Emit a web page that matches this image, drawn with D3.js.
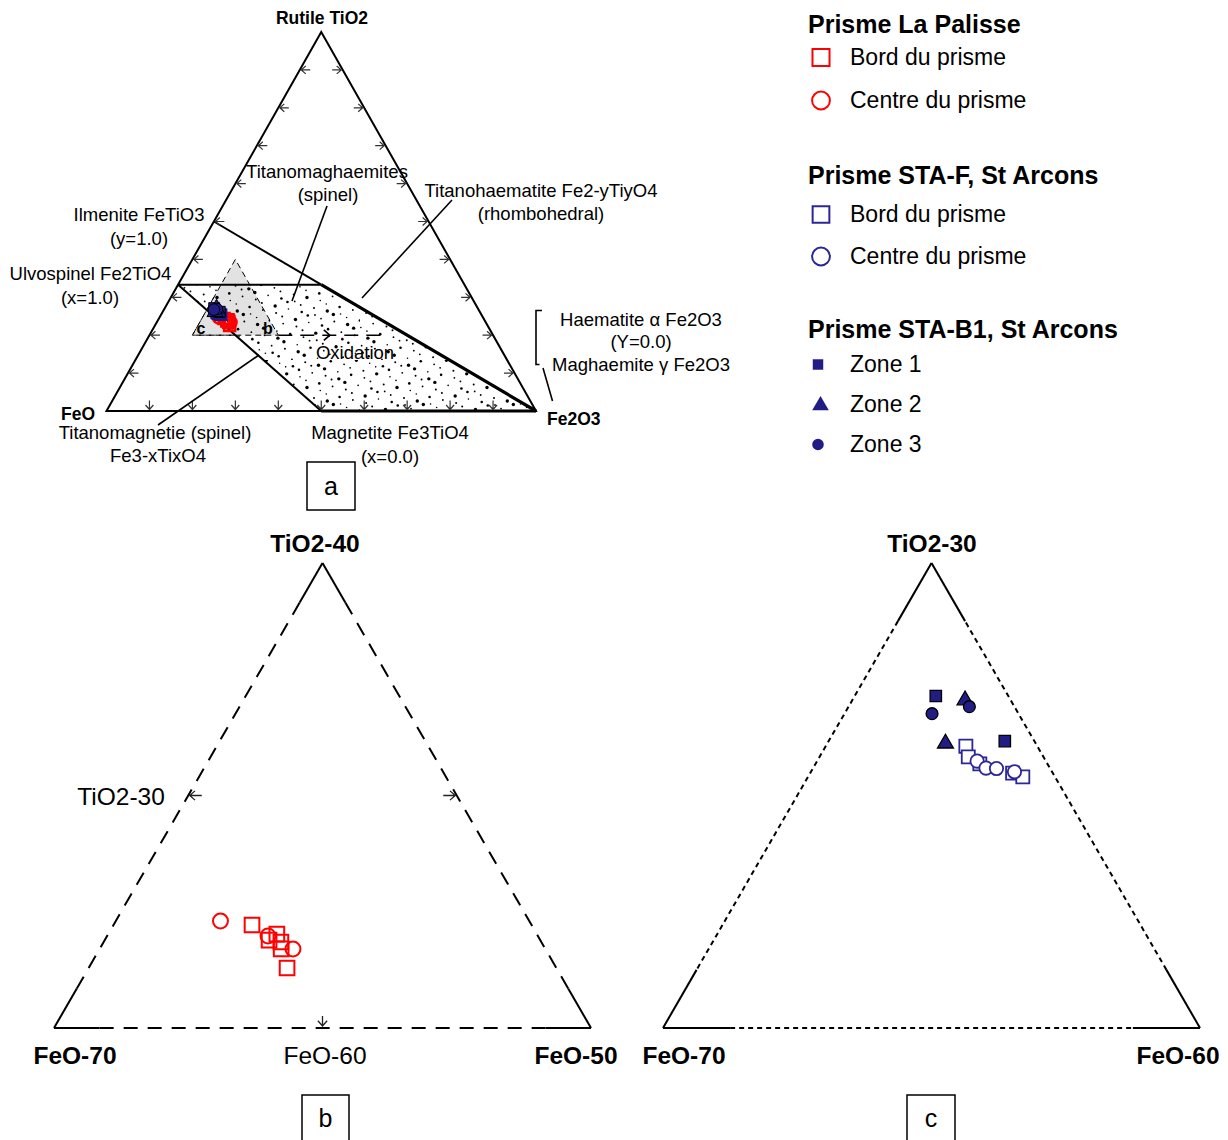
<!DOCTYPE html>
<html><head><meta charset="utf-8">
<script src="https://cdn.jsdelivr.net/npm/d3@7"></script>
<style>html,body{margin:0;padding:0;background:#fff;} svg{display:block;} text{font-family:"Liberation Sans",Arial,sans-serif;}</style>
</head><body><svg id="chart" width="1228" height="1140"></svg>
<script>
// ---------------- DATA (wt %: TiO2, FeO, Fe2O3) ----------------
const palisseBord = [
  {TiO2:24.43, FeO:60.41, Fe2O3:15.16},
  {TiO2:24.04, FeO:59.68, Fe2O3:16.28},
  {TiO2:23.78, FeO:60.10, Fe2O3:16.12},
  {TiO2:23.70, FeO:59.70, Fe2O3:16.60},
  {TiO2:23.40, FeO:59.84, Fe2O3:16.76},
  {TiO2:22.58, FeO:60.03, Fe2O3:17.39}
];
const palisseCentre = [
  {TiO2:24.60, FeO:61.50, Fe2O3:13.90},
  {TiO2:23.96, FeO:60.05, Fe2O3:15.99},
  {TiO2:23.40, FeO:59.40, Fe2O3:17.20}
];
const staFBord = [
  {TiO2:26.06, FeO:61.33, Fe2O3:12.61},
  {TiO2:25.83, FeO:61.40, Fe2O3:12.77},
  {TiO2:25.68, FeO:61.26, Fe2O3:13.06},
  {TiO2:25.48, FeO:60.75, Fe2O3:13.77},
  {TiO2:25.40, FeO:60.60, Fe2O3:14.00}
];
const staFCentre = [
  {TiO2:25.74, FeO:61.28, Fe2O3:12.98},
  {TiO2:25.59, FeO:61.19, Fe2O3:13.22},
  {TiO2:25.58, FeO:61.00, Fe2O3:13.42},
  {TiO2:25.51, FeO:60.70, Fe2O3:13.79}
];
const staB1Zone1 = [
  {TiO2:27.14, FeO:61.35, Fe2O3:11.51},
  {TiO2:26.17, FeO:60.55, Fe2O3:13.28}
];
const staB1Zone2 = [
  {TiO2:27.05, FeO:60.85, Fe2O3:12.10},
  {TiO2:26.12, FeO:61.68, Fe2O3:12.20}
];
const staB1Zone3 = [
  {TiO2:26.91, FeO:60.84, Fe2O3:12.25},
  {TiO2:26.76, FeO:61.61, Fe2O3:11.63}
];
// end members / reference compositions of panel a
const ilmenite   = {TiO2:50,    FeO:50,    Fe2O3:0};
const ulvospinel = {TiO2:33.33, FeO:66.67, Fe2O3:0};
const magnetite  = {TiO2:0,     FeO:50,    Fe2O3:50};
const haematite  = {TiO2:0,     FeO:0,     Fe2O3:100};
const rutile     = {TiO2:100,   FeO:0,     Fe2O3:0};
const wustite    = {TiO2:0,     FeO:100,   Fe2O3:0};
const ilmHemCross= {TiO2:33.33, FeO:33.34, Fe2O3:33.33};
// zoom windows (ranges in wt %)
const zoomB = {TiO2:[20,40], Fe2O3:[10,30]};
const zoomC = {TiO2:[20,30], Fe2O3:[10,20]};
const oxidationEnd = {TiO2:20, FeO:26, Fe2O3:54};
const oxidationHead = {TiO2:20, FeO:38, Fe2O3:42};
const tickValues = [10,20,30,40,50,60,70,80,90];
// tick / corner labels
const labelsA = {top:"Rutile TiO2", left:"FeO", right:"Fe2O3"};
const labelsB = {top:"TiO2-40", left:"FeO-70", right:"FeO-50", midLeft:"TiO2-30", midBottom:"FeO-60"};
const labelsC = {top:"TiO2-30", left:"FeO-70", right:"FeO-60"};

// ---------------- SETUP ----------------
const svg = d3.select("#chart");
svg.append("rect").attr("width",1228).attr("height",1140).attr("fill","#fff");
const RED = "#ff0000", NAVY = "#221d84", NAVYL = "#2b2798";

function comp(T, H){ return {TiO2:T, Fe2O3:H, FeO:100-T-H}; }
function makeProj(c){
  const xs = d3.scaleLinear().domain([c.hMin, c.hMin + c.span]).range([c.x0, c.x1]);
  const ys = d3.scaleLinear().domain([c.tMin, c.tMin + c.span]).range([c.y0, c.y0 - c.h]);
  return d => [xs(d.Fe2O3 + (d.TiO2 - c.tMin) / 2), ys(d.TiO2)];
}
const projA = makeProj({tMin:0, hMin:0, span:100, x0:106.5, x1:536, y0:411, h:379});
const projB = makeProj({tMin:zoomB.TiO2[0], hMin:zoomB.Fe2O3[0], span:zoomB.TiO2[1]-zoomB.TiO2[0], x0:54, x1:591, y0:1028, h:465});
const projC = makeProj({tMin:zoomC.TiO2[0], hMin:zoomC.Fe2O3[0], span:zoomC.TiO2[1]-zoomC.TiO2[0], x0:663, x1:1200, y0:1028, h:465});

const line = d3.line();
function poly(g, pts, attrs){
  const p = g.append("path").attr("d", line(pts) + "Z");
  for (const k in attrs) p.attr(k, attrs[k]);
  return p;
}
function seg(g, a, b, w, dash){
  const p = g.append("line").attr("x1",a[0]).attr("y1",a[1]).attr("x2",b[0]).attr("y2",b[1])
    .attr("stroke","#000").attr("stroke-width",w);
  if (dash) p.attr("stroke-dasharray", dash);
  return p;
}
function txt(g, x, y, s, size, opts={}){
  return g.append("text").attr("x",x).attr("y",y).text(s)
    .attr("font-size",size).attr("font-weight",opts.bold?"bold":"normal")
    .attr("text-anchor",opts.anchor||"middle").attr("fill","#000");
}
function arrow(g, tip, dir, len, color, hs, sw){
  const [dx,dy] = dir, ang = 0.72;
  hs = hs || 6;
  const back = [tip[0]-dx*len, tip[1]-dy*len];
  const rot = (a) => [-(dx*Math.cos(a) - dy*Math.sin(a)), -(dx*Math.sin(a) + dy*Math.cos(a))];
  const r1 = rot(ang), r2 = rot(-ang);
  g.append("path").attr("d",
      (len > 0 ? `M${back[0]},${back[1]}L${tip[0]},${tip[1]}` : "") +
      `M${tip[0]+r1[0]*hs},${tip[1]+r1[1]*hs}L${tip[0]},${tip[1]}L${tip[0]+r2[0]*hs},${tip[1]+r2[1]*hs}`)
    .attr("fill","none").attr("stroke",color||"#333").attr("stroke-width",sw||1.2);
}
const sym = (type, size) => d3.symbol().type(type).size(size)();
function drawSeries(g, proj, data, type, size, fill, stroke, sw){
  g.selectAll(null).data(data).enter().append("path")
    .attr("d", sym(type, size))
    .attr("transform", d => `translate(${proj(d)})`)
    .attr("fill", fill).attr("stroke", stroke).attr("stroke-width", sw);
}

// ---------------- PANEL A ----------------
const gA = svg.append("g");
const defs = svg.append("defs");
const pat = defs.append("pattern").attr("id","dots").attr("patternUnits","userSpaceOnUse")
  .attr("width",90).attr("height",90);
for (let n = 0; n < 95; n++){
  const fx = (0.5 + n*0.7548776662) % 1, fy = (0.5 + n*0.5698402910) % 1;
  pat.append("circle").attr("cx", fx*90).attr("cy", fy*90)
    .attr("r", [0.9, 1.3, 0.8, 1.7, 1.0][n % 5]).attr("fill","#000");
}
// grey zoom-b triangle
poly(gA, [comp(40,10), comp(20,10), comp(20,30)].map(projA),
  {fill:"#e2e2e2", stroke:"#000", "stroke-width":1, "stroke-dasharray":"6,4"});
// dotted oxidation field
poly(gA, [ulvospinel, ilmHemCross, haematite, magnetite].map(projA), {fill:"url(#dots)", stroke:"none"});
// zoom-c triangle
poly(gA, [comp(30,10), comp(20,10), comp(20,20)].map(projA),
  {fill:"none", stroke:"#000", "stroke-width":1, "stroke-dasharray":"6,4"});
// oxidation arrow
seg(gA, projA(comp(20,30)), projA(oxidationEnd), 1.6, "14,8");
arrow(gA, projA(oxidationHead), [1,0], 0, "#000", 8, 1.6);
// main triangle and lines
poly(gA, [rutile, wustite, haematite].map(projA), {fill:"none", stroke:"#000", "stroke-width":2, "stroke-linejoin":"miter"});
seg(gA, projA(ilmenite), projA(ilmHemCross), 2);
seg(gA, projA(ilmHemCross), projA(haematite), 3.2);
seg(gA, projA(ulvospinel), projA(ilmHemCross), 2);
seg(gA, projA(ulvospinel), projA(magnetite), 2);
seg(gA, projA(magnetite), projA(haematite), 3.2);
// ticks
tickValues.forEach(v => {
  const L = projA(comp(v,0)), R = projA(comp(v,100-v)), B = projA(comp(0,v));
  arrow(gA, [L[0]+1.5, L[1]], [-1,0], 9);
  arrow(gA, [R[0]-1.5, R[1]], [1,0], 9);
  arrow(gA, [B[0], B[1]-1.5], [0,1], 9);
});
// data in panel a
drawSeries(gA, projA, palisseBord, d3.symbolSquare, 120, "none", RED, 2.6);
drawSeries(gA, projA, palisseCentre, d3.symbolCircle, 110, "none", RED, 2.6);
drawSeries(gA, projA, staFBord, d3.symbolSquare, 120, NAVY, NAVY, 1.5);
drawSeries(gA, projA, staFCentre, d3.symbolCircle, 105, NAVY, NAVY, 1.5);
drawSeries(gA, projA, staB1Zone1, d3.symbolSquare, 120, NAVY, "#000", 1);
drawSeries(gA, projA, staB1Zone2, d3.symbolTriangle, 110, NAVY, "#000", 1);
drawSeries(gA, projA, staB1Zone3, d3.symbolCircle, 105, NAVY, "#000", 1);
// leader lines
seg(gA, [327,206], [292,301], 1.6);
seg(gA, [452,200], [362,298], 1.6);
seg(gA, [158,425], [259,355], 1.6);
gA.append("path").attr("d","M542,310.5H536V364.5H539.5M543,368L552.5,401")
  .attr("fill","none").attr("stroke","#000").attr("stroke-width",1.6);
// texts panel a
const FA = 18.5;
txt(gA, 322, 24, labelsA.top, 17.5, {bold:true});
txt(gA, 95, 419.5, labelsA.left, 17.5, {bold:true, anchor:"end"});
txt(gA, 547, 424.5, labelsA.right, 17.5, {bold:true, anchor:"start"});
txt(gA, 327, 178, "Titanomaghaemites", FA);
txt(gA, 328, 201, "(spinel)", FA);
txt(gA, 541, 197, "Titanohaematite Fe2-yTiyO4", FA);
txt(gA, 541, 220, "(rhombohedral)", FA);
txt(gA, 139, 221, "Ilmenite FeTiO3", FA);
txt(gA, 139, 245, "(y=1.0)", FA);
txt(gA, 90.5, 280, "Ulvospinel Fe2TiO4", FA);
txt(gA, 90, 304, "(x=1.0)", FA);
txt(gA, 641, 326, "Haematite α Fe2O3", FA);
txt(gA, 641, 348, "(Y=0.0)", FA);
txt(gA, 641, 371, "Maghaemite γ Fe2O3", FA);
txt(gA, 155, 439, "Titanomagnetie (spinel)", FA);
txt(gA, 158, 462, "Fe3-xTixO4", FA);
txt(gA, 390, 439, "Magnetite Fe3TiO4", FA);
txt(gA, 390, 463, "(x=0.0)", FA);
txt(gA, 355, 359, "Oxidation", FA);
txt(gA, 201, 334, "c", 16, {bold:true});
txt(gA, 268, 334, "b", 16, {bold:true});
gA.append("rect").attr("x",307).attr("y",462).attr("width",48).attr("height",48)
  .attr("fill","none").attr("stroke","#000").attr("stroke-width",1.5);
txt(gA, 331, 495, "a", 25);

// ---------------- PANEL B / C frames ----------------
function frame(g, proj, corners, f, dash){
  const pts = corners.map(proj);
  [[0,1],[1,2],[2,0]].forEach(([i,j]) => {
    const a = pts[i], b = pts[j];
    const lerp = t => [a[0]+(b[0]-a[0])*t, a[1]+(b[1]-a[1])*t];
    seg(g, a, lerp(f), 2);
    seg(g, lerp(f), lerp(1-f), 2, dash);
    seg(g, lerp(1-f), b, 2);
  });
}
const gB = svg.append("g");
frame(gB, projB, [comp(40,10), comp(20,10), comp(20,30)], 0.085, "14,10");
{
  const L = projB(comp(30,10)), R = projB(comp(30,20)), Bm = projB(comp(20,20));
  arrow(gB, [L[0]+1.5, L[1]], [-1,0], 12, "#222", 7, 1.3);
  arrow(gB, [R[0]-1.5, R[1]], [1,0], 12, "#222", 7, 1.3);
  arrow(gB, [Bm[0], Bm[1]-2], [0,1], 10, "#222", 7, 1.3);
}
drawSeries(gB, projB, palisseBord, d3.symbolSquare, 215, "none", RED, 2);
drawSeries(gB, projB, palisseCentre, d3.symbolCircle, 175, "none", RED, 2);
txt(gB, 315, 552, labelsB.top, 24.5, {bold:true});
txt(gB, 75, 1064, labelsB.left, 24.5, {bold:true});
txt(gB, 576, 1064, labelsB.right, 24.5, {bold:true});
txt(gB, 325, 1064, labelsB.midBottom, 24.5);
txt(gB, 121, 805, labelsB.midLeft, 24.5);
gB.append("rect").attr("x",302).attr("y",1095).attr("width",47).attr("height",50)
  .attr("fill","none").attr("stroke","#000").attr("stroke-width",1.5);
txt(gB, 325.5, 1127, "b", 25);

const gC = svg.append("g");
frame(gC, projC, [comp(30,10), comp(20,10), comp(20,20)], 0.125, "5,4");
drawSeries(gC, projC, staFBord, d3.symbolSquare, 170, "#fff", NAVYL, 1.8);
drawSeries(gC, projC, staFCentre, d3.symbolCircle, 140, "#fff", NAVYL, 1.8);
drawSeries(gC, projC, staB1Zone1, d3.symbolSquare, 130, NAVY, "#000", 1.3);
drawSeries(gC, projC, staB1Zone2, d3.symbolTriangle, 110, NAVY, "#000", 1.3);
drawSeries(gC, projC, staB1Zone3, d3.symbolCircle, 110, NAVY, "#000", 1.3);
txt(gC, 932, 552, labelsC.top, 24.5, {bold:true});
txt(gC, 684, 1064, labelsC.left, 24.5, {bold:true});
txt(gC, 1178, 1064, labelsC.right, 24.5, {bold:true});
gC.append("rect").attr("x",907).attr("y",1095).attr("width",48).attr("height",50)
  .attr("fill","none").attr("stroke","#000").attr("stroke-width",1.5);
txt(gC, 931, 1127, "c", 25);

// ---------------- LEGEND ----------------
const legendGroups = [
  {title:"Prisme La Palisse", items:[
    {label:"Bord du prisme", type:d3.symbolSquare, size:290, fill:"none", stroke:RED, sw:2},
    {label:"Centre du prisme", type:d3.symbolCircle, size:250, fill:"none", stroke:RED, sw:2}]},
  {title:"Prisme STA-F, St Arcons", items:[
    {label:"Bord du prisme", type:d3.symbolSquare, size:280, fill:"none", stroke:NAVYL, sw:2},
    {label:"Centre du prisme", type:d3.symbolCircle, size:250, fill:"none", stroke:NAVYL, sw:2}]},
  {title:"Prisme STA-B1, St Arcons", items:[
    {label:"Zone 1", type:d3.symbolSquare, size:110, fill:NAVY, stroke:"none", sw:0},
    {label:"Zone 2", type:d3.symbolTriangle, size:120, fill:NAVY, stroke:"none", sw:0},
    {label:"Zone 3", type:d3.symbolCircle, size:105, fill:NAVY, stroke:"none", sw:0}]}
];
const titleY = [33, 184, 338];
const itemY = [[57, 100], [214, 256], [364, 404, 444]];
const markerX = [[821, 821], [821, 821], [818, 820.5, 818]];
const gL = svg.append("g");
legendGroups.forEach((grp, gi) => {
  txt(gL, 808, titleY[gi], grp.title, 25, {bold:true, anchor:"start"});
  grp.items.forEach((it, ii) => {
    const y = itemY[gi][ii];
    gL.append("path").attr("d", sym(it.type, it.size))
      .attr("transform", `translate(${markerX[gi][ii]},${y + (it.type === d3.symbolTriangle ? 1.5 : 0.5)})`)
      .attr("fill", it.fill).attr("stroke", it.stroke).attr("stroke-width", it.sw);
    txt(gL, 850, y + 8, it.label, 23, {anchor:"start"});
  });
});
</script>
</body></html>
